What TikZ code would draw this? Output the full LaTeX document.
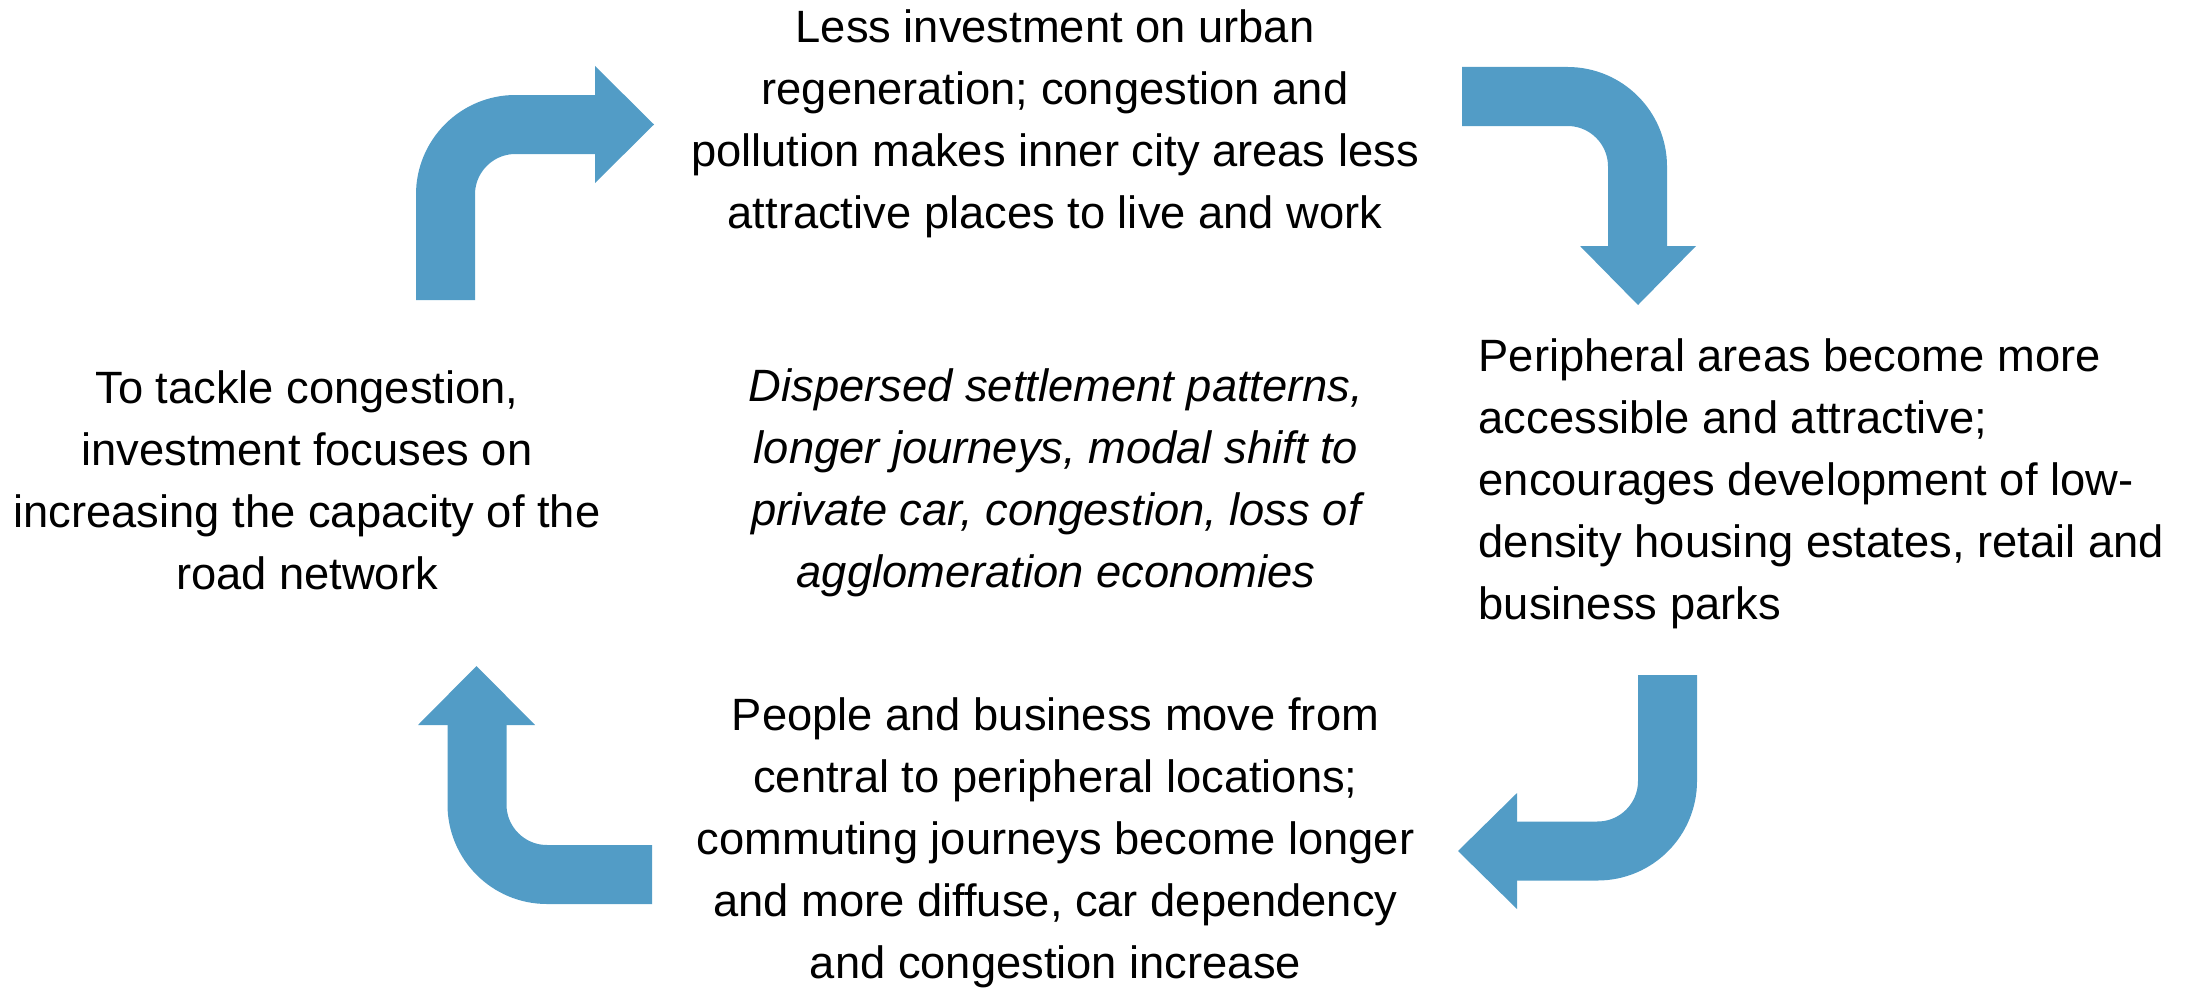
\documentclass[tikz,border=0pt]{standalone}
\usepackage{fontspec}
\setmainfont{Liberation Sans}
\definecolor{arrowblue}{RGB}{82,156,198}
\begin{document}
\begin{tikzpicture}[x=1pt,y=-1pt,
  flow/.style={draw=arrowblue, line width=59pt, rounded corners=70pt},
  headtip/.style={fill=arrowblue, draw=none},
  txt/.style={inner sep=0pt, anchor=base, text=black}]
\useasboundingbox (0,0) rectangle (2193,990);

% texts
\node[txt] (top) at (1055,43) {\fontsize{45.3}{62}\selectfont\begin{tabular}[t]{@{}c@{}}Less investment on urban\\ regeneration; congestion and\\ pollution makes inner city areas less\\ attractive places to live and work\end{tabular}};

\node[txt, anchor=base west] (right) at (1478.5,371.7) {\fontsize{45.3}{62}\selectfont\begin{tabular}[t]{@{}l@{}}Peripheral areas become more\\ accessible and attractive;\\ encourages development of low-\\ density housing estates, retail and\\ business parks\end{tabular}};

\node[txt] (left) at (307,403) {\fontsize{45.3}{62}\selectfont\begin{tabular}[t]{@{}c@{}}To tackle congestion,\\ investment focuses on\\ increasing the capacity of the\\ road network\end{tabular}};

\node[txt] (mid) at (1056,401.7) {\fontsize{45.3}{62}\selectfont\itshape\begin{tabular}[t]{@{}c@{}}Dispersed settlement patterns,\\ longer journeys, modal shift to\\ private car, congestion, loss of\\ agglomeration economies\end{tabular}};

\node[txt] (bottom) at (1055.5,730) {\fontsize{45.3}{62}\selectfont\begin{tabular}[t]{@{}c@{}}People and business move from\\ central to peripheral locations;\\ commuting journeys become longer\\ and more diffuse, car dependency\\ and congestion increase\end{tabular}};

% arrow 1 (top-left)
\coordinate (a1s) at (445.5,300);
\coordinate (a1b) at (445.5,124.5);
\coordinate (a1e) at (596,124.5);
\draw[flow] (a1s) -- (a1b) -- (a1e);
\fill[headtip] (595,66) -- (654,124.5) -- (595,183) -- cycle;

% arrow 2 (top-right)
\coordinate (a2s) at (1462,96.5);
\coordinate (a2b) at (1637.5,96.5);
\coordinate (a2e) at (1637.5,247);
\draw[flow] (a2s) -- (a2b) -- (a2e);
\fill[headtip] (1580,246) -- (1696,246) -- (1638,305) -- cycle;

% arrow 3 (bottom-right)
\coordinate (a3s) at (1667.5,675);
\coordinate (a3b) at (1667.5,851);
\coordinate (a3e) at (1516,851);
\draw[flow] (a3s) -- (a3b) -- (a3e);
\fill[headtip] (1517,793) -- (1517,909) -- (1458,851) -- cycle;

% arrow 4 (bottom-left)
\coordinate (a4s) at (652,874.5);
\coordinate (a4b) at (477,874.5);
\coordinate (a4e) at (477,724);
\draw[flow] (a4s) -- (a4b) -- (a4e);
\fill[headtip] (418,725) -- (535,725) -- (476.5,666) -- cycle;
\end{tikzpicture}
\end{document}
